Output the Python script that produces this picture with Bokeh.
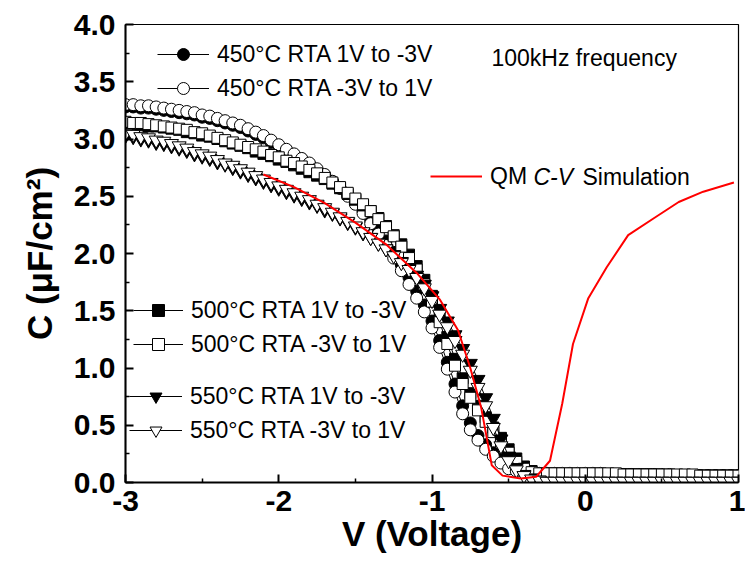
import numpy as np
from bokeh.plotting import figure
from bokeh.models import (Legend, LegendItem, Label, FixedTicker, Range1d,
                          NumeralTickFormatter)
from bokeh.embed import file_html
from bokeh.resources import INLINE

# Bias sweep, 50 mV steps from -3 V to 1 V
V = np.round(np.linspace(-3.0, 1.0, 81), 2)

# Capacitance density (uF/cm^2), 450 C RTA
C450_down = [3.28, 3.28, 3.27, 3.27, 3.26, 3.25, 3.24, 3.23, 3.22, 3.21,
             3.19, 3.18, 3.16, 3.14, 3.12, 3.10, 3.07, 3.04, 3.01, 2.97,
             2.94, 2.90, 2.86, 2.82, 2.78, 2.73, 2.68, 2.63, 2.57, 2.51,
             2.44, 2.37, 2.29, 2.20, 2.11, 2.01, 1.90, 1.79, 1.67, 1.55,
             1.41, 1.24, 1.05, 0.86, 0.67, 0.52, 0.41, 0.33, 0.26, 0.20,
             0.15, 0.11, 0.09, 0.08, 0.07, 0.07, 0.07, 0.07, 0.07, 0.07,
             0.07, 0.07, 0.07, 0.07, 0.07, 0.07, 0.07, 0.06, 0.06, 0.06,
             0.06, 0.06, 0.06, 0.06, 0.06, 0.06, 0.06, 0.06, 0.06, 0.06, 0.06]
C450_up = [3.30, 3.30, 3.29, 3.29, 3.28, 3.27, 3.26, 3.25, 3.24, 3.23,
           3.21, 3.20, 3.18, 3.16, 3.14, 3.12, 3.09, 3.06, 3.03, 2.99,
           2.95, 2.91, 2.87, 2.83, 2.79, 2.74, 2.69, 2.63, 2.57, 2.50,
           2.43, 2.35, 2.26, 2.17, 2.07, 1.96, 1.85, 1.73, 1.61, 1.49,
           1.35, 1.18, 0.99, 0.79, 0.60, 0.46, 0.37, 0.29, 0.23, 0.17,
           0.12, 0.10, 0.09, 0.08, 0.08, 0.08, 0.08, 0.08, 0.08, 0.08,
           0.08, 0.08, 0.08, 0.07, 0.07, 0.07, 0.07, 0.07, 0.07, 0.07,
           0.07, 0.07, 0.06, 0.06, 0.06, 0.06, 0.06, 0.06, 0.06, 0.06, 0.06]

# 500 C RTA
C500_down = [3.13, 3.13, 3.12, 3.11, 3.11, 3.10, 3.09, 3.08, 3.06, 3.05,
             3.03, 3.02, 3.00, 2.98, 2.96, 2.94, 2.92, 2.89, 2.87, 2.85,
             2.82, 2.80, 2.77, 2.74, 2.71, 2.68, 2.65, 2.61, 2.57, 2.52,
             2.47, 2.42, 2.37, 2.31, 2.24, 2.16, 2.08, 1.99, 1.89, 1.77,
             1.63, 1.46, 1.27, 1.08, 0.91, 0.78, 0.67, 0.57, 0.48, 0.39,
             0.29, 0.21, 0.14, 0.10, 0.08, 0.08, 0.08, 0.07, 0.07, 0.07,
             0.07, 0.07, 0.07, 0.07, 0.07, 0.07, 0.07, 0.07, 0.07, 0.07,
             0.06, 0.06, 0.06, 0.06, 0.06, 0.06, 0.06, 0.06, 0.06, 0.06, 0.06]
C500_up = [3.15, 3.14, 3.14, 3.13, 3.12, 3.11, 3.10, 3.09, 3.08, 3.06,
           3.05, 3.03, 3.01, 2.99, 2.97, 2.95, 2.93, 2.91, 2.89, 2.86,
           2.84, 2.81, 2.79, 2.76, 2.73, 2.70, 2.66, 2.62, 2.58, 2.53,
           2.48, 2.43, 2.37, 2.30, 2.23, 2.15, 2.06, 1.96, 1.86, 1.73,
           1.58, 1.40, 1.21, 1.02, 0.86, 0.74, 0.63, 0.53, 0.44, 0.35,
           0.26, 0.18, 0.12, 0.09, 0.08, 0.08, 0.08, 0.08, 0.08, 0.08,
           0.08, 0.08, 0.08, 0.08, 0.08, 0.07, 0.07, 0.07, 0.07, 0.07,
           0.07, 0.07, 0.07, 0.07, 0.07, 0.06, 0.06, 0.06, 0.06, 0.06, 0.06]

# 550 C RTA
C550_down = [3.03, 3.02, 3.00, 2.99, 2.97, 2.96, 2.94, 2.92, 2.90, 2.87,
             2.85, 2.83, 2.80, 2.78, 2.75, 2.72, 2.69, 2.66, 2.63, 2.60,
             2.57, 2.54, 2.51, 2.48, 2.45, 2.42, 2.38, 2.35, 2.31, 2.27,
             2.23, 2.18, 2.14, 2.09, 2.04, 1.99, 1.93, 1.87, 1.81, 1.73,
             1.63, 1.52, 1.41, 1.29, 1.17, 1.04, 0.90, 0.74, 0.56, 0.38,
             0.23, 0.13, 0.07, 0.04, 0.02, 0.01, 0.01, 0.01, 0.01, 0.01,
             0.01, 0.01, 0.01, 0.01, 0.01, 0.01, 0.01, 0.01, 0.01, 0.01,
             0.01, 0.01, 0.01, 0.01, 0.01, 0.01, 0.01, 0.01, 0.01, 0.01, 0.01]
C550_up = [3.05, 3.04, 3.02, 3.01, 2.99, 2.98, 2.96, 2.94, 2.92, 2.89,
           2.87, 2.85, 2.82, 2.79, 2.77, 2.74, 2.71, 2.68, 2.65, 2.62,
           2.59, 2.56, 2.53, 2.50, 2.47, 2.43, 2.40, 2.36, 2.32, 2.28,
           2.24, 2.19, 2.14, 2.09, 2.04, 1.98, 1.92, 1.86, 1.79, 1.70,
           1.59, 1.47, 1.36, 1.24, 1.12, 0.98, 0.83, 0.67, 0.48, 0.32,
           0.19, 0.11, 0.06, 0.03, 0.02, 0.01, 0.01, 0.01, 0.01, 0.01,
           0.01, 0.01, 0.01, 0.01, 0.01, 0.01, 0.01, 0.01, 0.01, 0.01,
           0.01, 0.01, 0.01, 0.01, 0.01, 0.01, 0.01, 0.01, 0.01, 0.01, 0.01]

# Quantum-mechanical C-V simulation
SIM_V = [-2.10, -1.90, -1.70, -1.50, -1.30, -1.10, -0.95, -0.83, -0.75, -0.68,
         -0.64, -0.61, -0.54, -0.42, -0.32, -0.23, -0.15, -0.08, 0.02, 0.14,
         0.28, 0.45, 0.61, 0.77, 0.97]
SIM_C = [2.69, 2.58, 2.44, 2.27, 2.08, 1.83, 1.60, 1.33, 1.00, 0.66,
         0.37, 0.15, 0.06, 0.035, 0.05, 0.19, 0.69, 1.21, 1.61, 1.88,
         2.16, 2.31, 2.45, 2.54, 2.62]

X_TICKS = [-3, -2, -1, 0, 1]
Y_TICKS = [0.0, 0.5, 1.0, 1.5, 2.0, 2.5, 3.0, 3.5, 4.0]

FONT = "Liberation Sans"

p = figure(width=745, height=565, output_backend="svg", toolbar_location=None,
           x_range=Range1d(-3, 1), y_range=Range1d(0, 4),
           min_border_left=125, min_border_right=7,
           min_border_top=24, min_border_bottom=83)
p.xgrid.visible = False
p.ygrid.visible = False
p.outline_line_color = "black"
p.outline_line_width = 1.2
p.background_fill_color = "white"
p.border_fill_color = "white"

p.xaxis.ticker = FixedTicker(ticks=X_TICKS, minor_ticks=[-2.5, -1.5, -0.5, 0.5])
p.yaxis.ticker = FixedTicker(ticks=Y_TICKS,
                             minor_ticks=[0.25, 0.75, 1.25, 1.75, 2.25, 2.75, 3.25, 3.75])
p.xaxis.formatter = NumeralTickFormatter(format="0")
p.yaxis.formatter = NumeralTickFormatter(format="0.0")

for ax in (p.xaxis, p.yaxis):
    ax.major_tick_in = 8
    ax.major_tick_out = 0
    ax.minor_tick_in = 4
    ax.minor_tick_out = 0
    ax.axis_line_width = 2
    ax.major_tick_line_width = 2
    ax.minor_tick_line_width = 1.5
    ax.major_label_text_font = FONT
    ax.major_label_text_font_style = "bold"
    ax.major_label_text_font_size = "30px"
    ax.major_label_text_color = "black"
    ax.axis_label_text_font = FONT
    ax.axis_label_text_font_style = "bold"
    ax.axis_label_text_font_size = "35px"
    ax.axis_label_text_color = "black"

p.xaxis.axis_label = "V (Voltage)"
p.xaxis.major_label_standoff = 8
p.xaxis.axis_label_standoff = 0
p.yaxis.axis_label = "C (\u03bcF/cm\u00b2)"
p.yaxis.major_label_standoff = 10
p.yaxis.axis_label_standoff = 12


def series(c, marker, size, filled):
    ln = p.line(V, c, line_color="black", line_width=1)
    sc = p.scatter(V, c, marker=marker, size=size, line_color="black", line_width=1,
                   fill_color="black" if filled else "white")
    return [ln, sc]


r450d = series(C450_down, "circle", 12, True)
r450u = series(C450_up, "circle", 12, False)
r500d = series(C500_down, "square", 11, True)
r500u = series(C500_up, "square", 11, False)
r550d = series(C550_down, "inverted_triangle", 14, True)
r550u = series(C550_up, "inverted_triangle", 14, False)
rsim = p.line(SIM_V, SIM_C, line_color="#ff0000", line_width=2)


def add_legend(items, x, y, gw):
    lg = Legend(items=items, location=(x, y), orientation="vertical",
                padding=0, margin=0, spacing=4, glyph_width=gw, glyph_height=30,
                label_height=30, label_standoff=8,
                background_fill_alpha=0, border_line_alpha=0,
                label_text_font=FONT, label_text_font_size="23px",
                label_text_color="black")
    p.add_layout(lg)


add_legend([LegendItem(label="450\u00b0C RTA 1V to -3V", renderers=r450d),
            LegendItem(label="450\u00b0C RTA -3V to 1V", renderers=r450u)], 32, 379, 52)
add_legend([LegendItem(label="500\u00b0C RTA 1V to -3V", renderers=r500d),
            LegendItem(label="500\u00b0C RTA -3V to 1V", renderers=r500u)], 8, 123, 50)
add_legend([LegendItem(label="550\u00b0C RTA 1V to -3V", renderers=r550d),
            LegendItem(label="550\u00b0C RTA -3V to 1V", renderers=r550u)], 4, 37, 53)
add_legend([LegendItem(label="QM", renderers=[rsim])], 305, 291, 52)

label_style = dict(x_units="screen", y_units="screen", text_font=FONT,
                   text_font_size="23px", text_color="black", text_baseline="middle")
p.add_layout(Label(x=408, y=306, text="C-V", text_font_style="italic", **label_style))
p.add_layout(Label(x=457, y=306, text="Simulation", **label_style))
p.add_layout(Label(x=366, y=425, text="100kHz frequency", **label_style))

open("out.html", "w").write(file_html(p, INLINE))
